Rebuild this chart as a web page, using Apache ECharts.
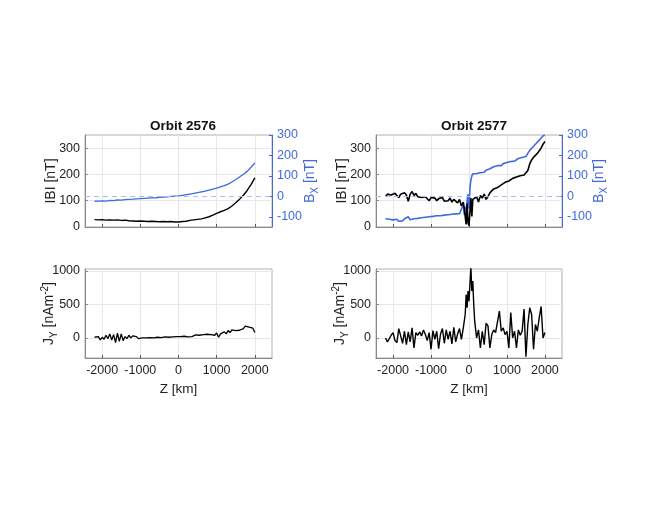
<!DOCTYPE html>
<html>
<head>
<meta charset="utf-8">
<script src="https://cdn.jsdelivr.net/npm/echarts@6/dist/echarts.min.js"></script>
<style>
html,body{margin:0;padding:0;background:#fff;}
#c{width:660px;height:510px;}
</style>
</head>
<body>
<div id="c"></div>
<script>
// ---------- data ----------
const titles = ['Orbit 2576', 'Orbit 2577'];
const xTicks = [-2000, -1000, 0, 1000, 2000];
const bTicks = [0, 100, 200, 300];
const bxTicks = [-100, 0, 100, 200, 300];
const jTicks = [0, 500, 1000];

// Orbit 2576, top panel (z step 100 km)
const z2576top = [-2200,-2100,-2000,-1900,-1800,-1700,-1600,-1500,-1400,-1300,-1200,-1100,-1000,-900,-800,-700,-600,-500,-400,-300,-200,-100,0,100,200,300,400,500,600,700,800,900,1000,1100,1200,1300,1400,1500,1600,1700,1800,1900,2000];
const b2576 = [28,27,28,26,27,26,27,25,26,24,23,22,23,22,21,22,21,20,21,20,21,19,19,21,22,25,27,29,31,35,39,45,52,58,63,70,80,92,106,121,139,161,187];
const bx2576 = [-24,-23,-22,-23,-20,-21,-18,-19,-16,-15,-14,-12,-11,-10,-9,-8,-7,-5,-4,-3,0,1,2,5,8,11,14,18,22,26,30,35,40,46,52,60,70,82,95,108,122,142,163];

// Orbit 2576, bottom panel (z step 50 km)
const z2576bot = [-2200,-2150,-2100,-2050,-2000,-1950,-1900,-1850,-1800,-1750,-1700,-1650,-1600,-1550,-1500,-1450,-1400,-1350,-1300,-1250,-1200,-1150,-1100,-1050,-1000,-950,-900,-850,-800,-750,-700,-650,-600,-550,-500,-450,-400,-350,-300,-250,-200,-150,-100,-50,0,50,100,150,200,250,300,350,400,450,500,550,600,650,700,750,800,850,900,950,1000,1050,1100,1150,1200,1250,1300,1350,1400,1450,1500,1550,1600,1650,1700,1750,1800,1850,1900,1950,2000];
const j2576 = [10,-10,20,-30,10,-20,40,-10,60,-30,50,-70,70,-50,60,-40,20,-10,40,0,30,10,20,-10,-30,0,10,0,20,5,15,0,20,10,25,5,20,15,30,10,20,15,10,20,15,20,10,25,30,15,35,20,30,45,25,40,30,50,40,55,70,50,60,40,75,10,60,40,90,60,110,80,120,95,110,100,115,130,140,175,165,160,150,145,80];

// Orbit 2577, top panel
const z2577top = [-2200,-2150,-2100,-2050,-2000,-1950,-1900,-1850,-1800,-1750,-1700,-1650,-1600,-1550,-1500,-1450,-1400,-1350,-1300,-1250,-1200,-1150,-1100,-1050,-1000,-950,-900,-850,-800,-750,-700,-650,-600,-550,-500,-450,-400,-350,-300,-250,-200,-150,-125,-100,-75,-50,-25,0,25,50,75,100,150,200,250,300,350,400,450,500,550,600,650,700,750,800,850,900,950,1000,1050,1100,1150,1200,1250,1300,1350,1400,1450,1500,1550,1600,1650,1700,1750,1800,1850,1900,1950,2000];
const b2577 = [115,125,118,122,115,128,120,112,125,118,130,122,98,125,135,120,128,115,108,112,105,115,108,100,112,105,110,100,108,102,112,98,105,100,110,95,105,100,92,105,80,95,70,40,10,90,15,5,60,110,40,105,100,115,95,120,110,125,105,115,130,125,145,140,150,145,160,155,170,165,175,170,185,180,190,188,195,200,198,205,215,240,255,265,270,280,290,300,315,325];
const bx2577 = [-110,-118,-112,-120,-115,-118,-112,-122,-115,-120,-110,-118,-100,-115,-120,-110,-115,-108,-112,-105,-110,-102,-108,-100,-105,-98,-102,-95,-100,-95,-98,-92,-95,-90,-94,-88,-92,-86,-90,-85,-88,-40,-90,-50,-100,-20,10,-60,40,80,100,110,118,112,120,115,122,118,128,125,135,140,145,142,150,155,150,160,158,165,162,170,175,172,180,185,182,190,195,195,210,225,235,245,255,262,275,285,295,300];

// Orbit 2577, bottom panel
const z2577bot = [-2200,-2150,-2100,-2050,-2000,-1950,-1900,-1850,-1800,-1750,-1700,-1650,-1600,-1550,-1500,-1450,-1400,-1350,-1300,-1250,-1200,-1150,-1100,-1050,-1000,-950,-900,-850,-800,-750,-700,-650,-600,-550,-500,-450,-400,-350,-300,-250,-200,-150,-100,-75,-50,-25,0,25,50,75,100,125,150,200,250,300,350,400,450,500,550,600,650,700,750,800,850,900,950,1000,1050,1100,1150,1200,1250,1300,1350,1400,1450,1500,1550,1600,1650,1700,1750,1800,1850,1900,1950,2000];
const j2577 = [0,-60,-50,40,80,-40,-70,140,30,-80,100,-100,90,-60,150,-150,80,40,90,30,120,50,-40,80,-170,110,-20,100,-160,60,140,-80,120,-20,100,-90,160,-60,60,140,-20,150,350,650,450,700,550,800,1050,700,850,500,250,0,120,-150,100,-100,220,180,-150,50,120,80,100,400,100,150,50,100,-150,380,0,100,-150,120,40,100,430,-280,200,450,350,-170,200,100,300,470,0,80];

// ---------- chart ----------
const BLUE = '#4169E1';
const FONT = 'Liberation Sans, Arial, Helvetica, sans-serif';
const pairs = (xs, ys) => xs.map((x, i) => [x, ys[i]]);
const plain = v => String(v);

const grids = [
  {left: 85, top: 135, width: 187, height: 92},
  {left: 376, top: 135, width: 186, height: 92},
  {left: 85, top: 269, width: 187, height: 89},
  {left: 376, top: 269, width: 186, height: 89}
].map(g => Object.assign(g, {show: true, borderColor: '#b0b0b0', borderWidth: 1, backgroundColor: 'transparent'}));

function xAxis(gi, showLabels, min, max) {
  return {
    type: 'value', gridIndex: gi, min: min, max: max,
    name: showLabels ? 'Z [km]' : '', nameLocation: 'middle', nameGap: 24, nameMoveOverlap: false,
    nameTextStyle: {fontFamily: FONT, fontSize: 13.5, color: '#222'},
    axisLine: {show: true, onZero: false, lineStyle: {color: '#888'}},
    axisTick: {show: true, inside: true, length: 3, customValues: xTicks, lineStyle: {color: '#555'}},
    axisLabel: {show: showLabels, customValues: xTicks, formatter: plain, fontFamily: FONT, fontSize: 12.5, color: '#222', margin: 6},
    splitLine: {show: true, lineStyle: {color: '#e8e8e8', width: 1}}
  };
}
function yAxis(gi, pos, min, max, ticks, name, color, axColor, grid, gap) {
  return {
    type: 'value', gridIndex: gi, position: pos, min: min, max: max,
    name: name, nameLocation: 'middle', nameGap: gap, nameRotate: 90, nameMoveOverlap: false,
    nameTextStyle: {fontFamily: FONT, fontSize: 14, color: color,
      rich: {
        n: {fontFamily: FONT, fontSize: 14, color: color},
        sub: {fontFamily: FONT, fontSize: 10, color: color, verticalAlign: 'bottom', padding: [9, 0, 0, 0]},
        sup: {fontFamily: FONT, fontSize: 10, color: color, verticalAlign: 'top', padding: [0, 0, 7, 0]}
      }},
    axisLine: {show: true, onZero: false, lineStyle: {color: axColor}},
    axisTick: {show: true, inside: true, length: 3, customValues: ticks, lineStyle: {color: axColor}},
    axisLabel: {customValues: ticks, formatter: plain, fontFamily: FONT, fontSize: 12.5, color: color, margin: 5},
    splitLine: {show: grid, lineStyle: {color: '#e8e8e8', width: 1}}
  };
}

const bName = 'IBI [nT]';
const bxName = '{n|B}{sub|X}{n| [nT]}';
const jName = '{n|J}{sub|Y}{n| [nAm}{sup|-2}{n|]}';

const option = {
  animation: false,
  backgroundColor: '#fff',
  title: [
    {text: titles[0], left: 178, top: 114, textAlign: 'center', textStyle: {fontFamily: FONT, fontSize: 13.5, fontWeight: 'bold', color: '#111'}},
    {text: titles[1], left: 469, top: 114, textAlign: 'center', textStyle: {fontFamily: FONT, fontSize: 13.5, fontWeight: 'bold', color: '#111'}}
  ],
  grid: grids,
  xAxis: [xAxis(0, false, -2450, 2450), xAxis(1, false, -2450, 2450), xAxis(2, true, -2450, 2450), xAxis(3, true, -2450, 2450)],
  yAxis: [
    yAxis(0, 'left', 0, 350, bTicks, bName, '#222', '#888', true, 27),
    yAxis(0, 'right', -150, 300, bxTicks, bxName, BLUE, BLUE, false, 29),
    yAxis(1, 'left', 0, 350, bTicks, bName, '#222', '#888', true, 27),
    yAxis(1, 'right', -150, 300, bxTicks, bxName, BLUE, BLUE, false, 28),
    yAxis(2, 'left', -300, 1030, jTicks, jName, '#222', '#888', true, 26),
    yAxis(3, 'left', -300, 1030, jTicks, jName, '#222', '#888', true, 26)
  ],
  series: [
    {type: 'line', xAxisIndex: 0, yAxisIndex: 1, data: pairs(z2576top, bx2576), showSymbol: false, lineStyle: {color: BLUE, width: 1.3},
      markLine: {silent: true, symbol: 'none', label: {show: false}, lineStyle: {color: '#a9bdf2', type: [5, 4], width: 1}, data: [{yAxis: 0}]}},
    {type: 'line', xAxisIndex: 0, yAxisIndex: 0, data: pairs(z2576top, b2576), showSymbol: false, lineStyle: {color: '#000', width: 1.4}},
    {type: 'line', xAxisIndex: 1, yAxisIndex: 3, data: pairs(z2577top, bx2577), showSymbol: false, lineStyle: {color: BLUE, width: 1.6},
      markLine: {silent: true, symbol: 'none', label: {show: false}, lineStyle: {color: '#a9bdf2', type: [5, 4], width: 1}, data: [{yAxis: 0}]}},
    {type: 'line', xAxisIndex: 1, yAxisIndex: 2, data: pairs(z2577top, b2577), showSymbol: false, lineStyle: {color: '#000', width: 1.6}},
    {type: 'line', xAxisIndex: 2, yAxisIndex: 4, data: pairs(z2576bot, j2576), showSymbol: false, lineStyle: {color: '#000', width: 1.3}},
    {type: 'line', xAxisIndex: 3, yAxisIndex: 5, data: pairs(z2577bot, j2577), showSymbol: false, lineStyle: {color: '#000', width: 1.4}}
  ]
};
const chart = echarts.init(document.getElementById('c'));
chart.setOption(option);
</script>
</body>
</html>
